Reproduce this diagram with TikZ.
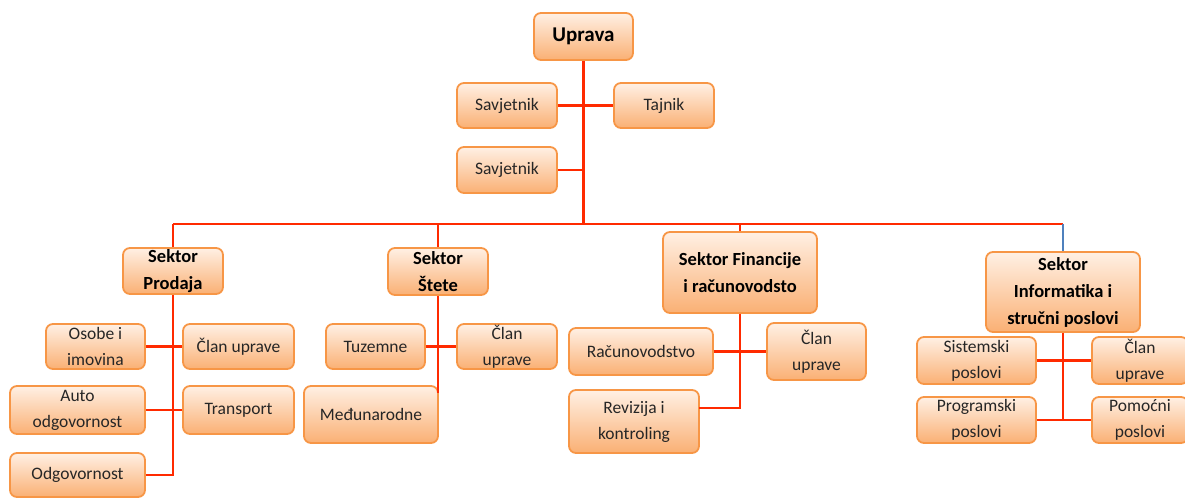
\documentclass[tikz,border=0pt]{standalone}
\usepackage{fontspec}
\setmainfont{Carlito}
\usetikzlibrary{calc}
\definecolor{boxline}{HTML}{F79646}
\definecolor{boxtop}{HTML}{FFF0E4}
\definecolor{boxbot}{HTML}{FAB074}
\definecolor{conn}{HTML}{FF2A00}
\definecolor{blueconn}{HTML}{4F81BD}
\definecolor{txt}{HTML}{262626}
\tikzset{
  orgbox/.style n args={2}{draw=boxline, line width=1.8pt, rounded corners=7pt,
    top color=boxtop, bottom color=boxbot, inner sep=0pt, align=center,
    minimum width=#1, minimum height=#2, text=txt,
    font=\fontsize{17.5}{26}\selectfont},
  headbox/.style={font=\fontsize{18.5}{27}\selectfont\bfseries, text=black},
  link/.style={draw=conn, line width=2.5pt},
}
\begin{document}
\begin{tikzpicture}[x=1pt,y=-1pt]
\useasboundingbox (0,0) rectangle (1185,502);
% top
\node[orgbox={99pt}{47pt}, headbox, font=\fontsize{21}{24}\selectfont\bfseries] (u) at (583.5,36.5) {Uprava};
\node[orgbox={100pt}{45pt}] (s1) at (507,105.5) {Savjetnik};
\node[orgbox={100pt}{45pt}] (t) at (664,105.5) {Tajnik};
\node[orgbox={100pt}{46pt}] (s2) at (507,170) {Savjetnik};
% Prodaja
\node[orgbox={100pt}{46pt}, headbox] (prod) at (173,271) {Sektor\\Prodaja};
\node[orgbox={99pt}{45pt}] (osobe) at (95.5,346.5) {Osobe i\\imovina};
\node[orgbox={111pt}{45pt}] (clan1) at (238.5,346.5) {Član uprave};
\node[orgbox={135pt}{48pt}] (auto) at (77.5,410) {Auto\\odgovornost};
\node[orgbox={111pt}{48pt}] (transport) at (238.5,410) {Transport};
\node[orgbox={135pt}{44pt}] (odg) at (77.5,475) {Odgovornost};
% Stete
\node[orgbox={100pt}{47pt}, headbox] (stete) at (438,271.5) {Sektor\\Štete};
\node[orgbox={99pt}{45pt}] (tuz) at (375.5,346.5) {Tuzemne};
\node[orgbox={100pt}{45pt}] (clan2) at (507,346.5) {Član\\uprave};
\node[orgbox={134pt}{57pt}] (med) at (371,414.5) {Međunarodne};
% Financije
\node[orgbox={154pt}{81pt}, headbox] (fin) at (740,272.5) {Sektor Financije\\i računovodsto};
\node[orgbox={144pt}{47pt}] (rac) at (641,351.5) {Računovodstvo};
\node[orgbox={99pt}{57pt}] (clan3) at (816.5,351.5) {Član\\uprave};
\node[orgbox={130pt}{63pt}] (rev) at (634,421.5) {Revizija i\\kontroling};
% Informatika
\node[orgbox={154pt}{80pt}, headbox] (inf) at (1063,292) {Sektor\\Informatika i\\stručni poslovi};
\node[orgbox={119pt}{47pt}] (sis) at (976.5,360.5) {Sistemski\\poslovi};
\node[orgbox={96pt}{47pt}] (clan4) at (1140,360.5) {Član\\uprave};
\node[orgbox={119pt}{46pt}] (prog) at (976.5,420) {Programski\\poslovi};
\node[orgbox={96pt}{46pt}] (pom) at (1140,420) {Pomoćni\\poslovi};
% coordinates
\coordinate (bus) at (583.5,224);
\coordinate (bl) at (173,224);
\coordinate (br) at (1063,224);
\coordinate (revc) at (699,408);
\coordinate (medc) at (438,393);
% connectors
\draw[link] (u.south) -- (bus);
\draw[link] (s1.east) -- (t.west);
\draw[link] (s2.east) -- (s2.east -| u.south);
\draw[link] (bl) -- (br);
\draw[link] (bl) -- (prod.north);
\draw[link] (stete.north |- bl) -- (stete.north);
\draw[link] (fin.north |- bl) -- (fin.north);
\draw[blueconn, line width=1.2pt] (br) -- (inf.north);
\draw[link] (prod.south) |- (odg.east);
\draw[link] (osobe.east) -- (clan1.west);
\draw[link] (auto.east) -- (transport.west);
\draw[link] (stete.south) -- (medc);
\draw[link] (tuz.east) -- (clan2.west);
\draw[link] (fin.south) |- (revc);
\draw[link] (rac.east) -- (clan3.west);
\draw[link] (inf.south) |- (prog.east);
\draw[link] (sis.east) -- (clan4.west);
\draw[link] (prog.east) -- (pom.west);
\end{tikzpicture}
\end{document}
